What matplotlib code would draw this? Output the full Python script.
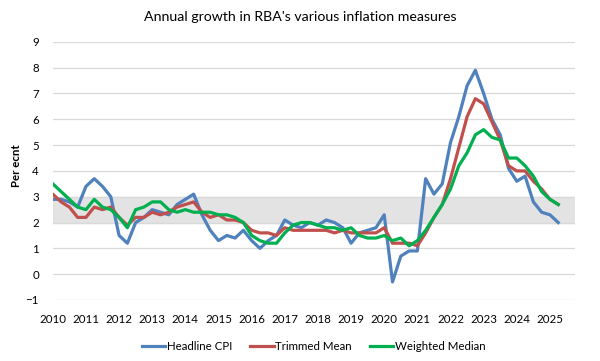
import numpy as np
import matplotlib
matplotlib.use("Agg")
import matplotlib.pyplot as plt

plt.rcParams['font.family'] = ['Lato', 'DejaVu Sans']

# quarterly, Mar 2010 .. Jun 2025
years = list(range(2010, 2026))

headline_cpi = [2.9, 2.9, 2.8, 2.6, 3.4, 3.7, 3.4, 3.0,
                1.5, 1.2, 2.0, 2.2, 2.5, 2.4, 2.3, 2.7,
                2.9, 3.1, 2.3, 1.7, 1.3, 1.5, 1.4, 1.7,
                1.3, 1.0, 1.3, 1.5, 2.1, 1.9, 1.8, 2.0,
                1.9, 2.1, 2.0, 1.8, 1.2, 1.6, 1.7, 1.8,
                2.3, -0.3, 0.7, 0.9, 0.9, 3.7, 3.1, 3.5,
                5.1, 6.1, 7.3, 7.9, 7.0, 6.0, 5.4, 4.1,
                3.6, 3.8, 2.8, 2.4, 2.3, 2.0]

trimmed_mean = [3.1, 2.8, 2.6, 2.2, 2.2, 2.6, 2.5, 2.6,
                2.2, 1.9, 2.2, 2.2, 2.4, 2.3, 2.4, 2.6,
                2.7, 2.8, 2.4, 2.2, 2.3, 2.1, 2.1, 2.0,
                1.7, 1.6, 1.6, 1.5, 1.8, 1.7, 1.7, 1.7,
                1.7, 1.7, 1.6, 1.7, 1.6, 1.6, 1.6, 1.6,
                1.8, 1.2, 1.2, 1.2, 1.1, 1.6, 2.2, 2.7,
                3.7, 4.9, 6.1, 6.8, 6.6, 5.9, 5.2, 4.2,
                4.0, 4.0, 3.6, 3.3, 2.9, 2.7]

weighted_median = [3.5, 3.2, 2.9, 2.6, 2.5, 2.9, 2.6, 2.5,
                   2.2, 1.8, 2.5, 2.6, 2.8, 2.8, 2.5, 2.4,
                   2.5, 2.4, 2.4, 2.4, 2.3, 2.3, 2.2, 2.0,
                   1.5, 1.3, 1.2, 1.2, 1.6, 1.9, 2.0, 2.0,
                   1.9, 1.8, 1.8, 1.7, 1.8, 1.5, 1.4, 1.4,
                   1.5, 1.3, 1.4, 1.1, 1.3, 1.7, 2.2, 2.7,
                   3.3, 4.2, 4.7, 5.4, 5.6, 5.3, 5.2, 4.5,
                   4.5, 4.2, 3.8, 3.2, 2.9, 2.7]

band_low, band_high = 2, 3

x = np.arange(len(headline_cpi))

fig = plt.figure(figsize=(6, 3.61), dpi=100)
ax = fig.add_axes([0.088, 0.169, 0.87, 0.715])

ax.axhspan(band_low, band_high, color='#e3e3e3', zorder=0)
for v in range(-1, 10):
    ax.axhline(v, color='#d9d9d9', lw=0.9, zorder=1)

ax.plot(x, headline_cpi, color='#4f81bd', lw=2.3, label='Headline CPI', zorder=3)
ax.plot(x, trimmed_mean, color='#c0504d', lw=2.3, label='Trimmed Mean', zorder=3)
ax.plot(x, weighted_median, color='#00b050', lw=2.3, label='Weighted Median', zorder=3)

ax.set_xlim(0, 63)
ax.set_ylim(-1, 9)
ax.set_yticks(range(-1, 10))
ax.set_xticks(range(0, 4 * len(years), 4))
ax.set_xticklabels([str(y) for y in years])
ax.tick_params(length=0, labelsize=8.3, colors='black')
ax.tick_params(axis='y', pad=10)
ax.tick_params(axis='x', pad=10)
for s in ax.spines.values():
    s.set_visible(False)

ax.set_ylabel('Per ecnt', fontsize=8.3, fontweight='bold')
ax.yaxis.set_label_coords(-0.059, 0.52)
fig.text(0.5, 0.953, "Annual growth in RBA's various inflation measures",
         ha='center', va='center', fontsize=10.2)

ax.legend(loc='upper center', bbox_to_anchor=(0.5, -0.12), ncol=3, frameon=False,
          fontsize=8.3, handlelength=2.0, handletextpad=0.15, columnspacing=1.6)

fig.savefig('out.png', dpi=100)
